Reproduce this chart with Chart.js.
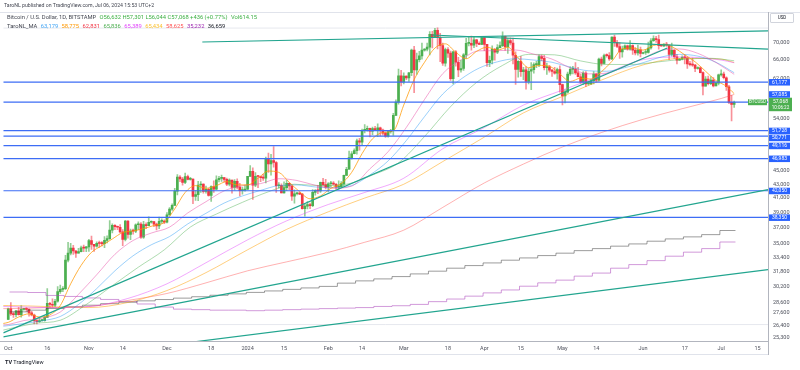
<!DOCTYPE html>
<html>
<head>
<meta charset="utf-8">
<script src="https://cdn.jsdelivr.net/npm/chart.js@4.4.1/dist/chart.umd.min.js"></script>
<style>
  html, body { margin: 0; padding: 0; background: #fff; }
  #wrap { position: relative; width: 800px; height: 370px; overflow: hidden; font-family: Roboto, 'Liberation Sans', sans-serif; }
  #chart { position: absolute; left: 0; top: 0; }
  .txt { position: absolute; white-space: nowrap; font-size: 5.2px; line-height: 6px; color: #434651; }
  .lg { font-size: 5.8px; }
  .lg span { margin-left: 2px; }
  .up { color: #3cb043; }
  #usd { position: absolute; left: 770px; top: 13px; width: 22px; height: 8px; border: 1px solid #d1d4dc; border-radius: 1px; background: #fff; font-size: 4.5px; line-height: 8px; text-align: center; color: #131722; }
  #tv { font-size: 5.5px; color: #131722; }
</style>
</head>
<body>
<div id="wrap">
  <canvas id="chart" width="800" height="370"></canvas>
  <div class="txt" style="left:4px;top:2px">TaroNL published on TradingView.com, Jul 06, 2024 15:53 UTC+2</div>
  <div class="txt lg" style="left:7px;top:14px">Bitcoin / U.S. Dollar, 1D, BITSTAMP <span class="up">O56,632 H57,301 L56,044 C57,068 +436 (+0.77%)</span> <span class="up">Vol614.15</span></div>
  <div class="txt lg" style="left:7px;top:22.5px">TaroNL_MA <span style="color:#42a5f5">63,179</span> <span style="color:#ff9800">58,775</span> <span style="color:#f23645">62,831</span> <span style="color:#4caf50">65,836</span> <span style="color:#e040fb">65,389</span> <span style="color:#fbc02d">65,434</span> <span style="color:#ff5252">58,625</span> <span style="color:#9c27b0">35,232</span> <span style="color:#131722">36,659</span></div>
  <div id="usd">USD</div>
  <div class="txt" id="tv" style="left:5px;top:359px"><b>TV</b> TradingView</div>
</div>
<script>
// daily BTC/USD candles, day 0 = 1 Oct 2023, last = 6 Jul 2024
const firstOpen = 26970;
const closes = [
  // Oct
  27990,27500,27430,27790,27410,27930,27960,27930,27590,27390,26870,26760,26860,26860,27160,28520,28420,28330,28720,29690,29920,29990,33090,33900,34500,34160,33900,34090,34540,34500,34640,
  // Nov
  35420,34940,34730,35080,35050,35040,35430,35650,36700,37320,37140,37070,36490,35550,37880,36170,36600,36580,37390,37470,35810,37420,37290,37720,37800,37480,37250,37830,37860,37720,
  // Dec
  38690,39470,39980,41990,44090,43780,43290,44170,43720,43790,41250,41490,42890,43030,41940,42260,41370,42660,42270,43670,43870,43990,43740,43020,43610,42520,43440,42580,42070,42140,42280,
  // Jan
  44180,44950,42850,44180,44160,43970,43930,46970,46120,46660,46350,42780,42850,41730,42500,43150,42740,41260,41620,41670,41560,39530,39870,40080,39930,41820,42120,42030,43300,42940,42570,
  // Feb
  43080,43190,43000,42580,42660,43090,44330,45290,47130,47770,48290,49960,49730,51810,51940,52160,51660,52120,51780,52260,51850,51300,50740,51570,51730,54520,57080,62500,61200,
  // Mar
  62440,62050,63170,68300,63800,66110,66940,68300,68500,69020,72100,71480,73100,71400,69400,65300,68400,67600,61900,67900,65500,63800,64100,67200,69900,69900,69450,70750,69900,69650,71300,
  // Apr
  69650,65400,65950,68500,67800,68900,69350,71600,69100,70600,70000,67100,63900,65700,63400,63800,61300,63500,63850,64950,64950,66800,66400,64300,64500,63750,63450,63100,63850,60650,
  // May
  58300,59100,62900,63900,64000,63150,62300,61200,63100,60800,60800,61450,62900,61550,66250,65250,67050,67000,66250,71450,70150,69150,67900,68550,69300,68500,69400,68300,67650,68350,67500,
  // Jun
  67750,67750,68800,70550,71100,70800,69350,69300,69650,69500,67300,68250,66750,66000,66200,66650,66500,65150,64950,64850,64100,64250,63200,60300,61800,60850,61600,60350,60950,62700,
  // Jul
  62900,62100,60200,57050,56632,57068
];
const highs = [
  28050,28580,27670,27840,28120,28290,28030,28100,27990,27730,27480,26940,27090,26980,27290,30000,28620,28960,28920,30220,30360,30200,33660,35200,35080,34820,34230,34480,34740,34860,34720,
  35560,35960,34940,35240,35360,35280,35890,35980,37940,37520,37420,37230,37420,36760,37980,37940,36850,36850,37520,37760,37670,37850,37630,38420,37890,37820,37600,38390,38170,38040,
  38990,39670,40200,42410,44450,44300,44050,44700,44370,44040,43800,42100,43440,43400,43080,42720,42440,42770,43500,44280,44200,44380,44020,43940,43800,43610,43690,43800,43130,42600,42890,
  44190,45880,45500,44770,44330,44220,44480,47240,47900,47690,48970,46500,43250,43080,43370,43570,43200,42930,42180,41870,41880,41680,40140,40520,40280,42220,42200,42840,43310,43880,43750,
  43260,43440,43380,43120,43520,43390,44370,45600,48200,48150,48570,50270,50370,52020,52820,52570,52180,52360,52490,52950,52370,52000,51530,51680,51960,54910,57560,64000,63680,
  63160,62500,63240,68520,69170,67600,67990,69960,68650,70000,72800,72900,73650,73750,72350,70000,68800,68900,68100,68100,68200,66650,65950,67500,71150,71550,71700,71550,70900,70300,71350,
  71350,69650,66900,69300,68700,69600,70300,72750,71700,71200,71250,71200,67900,65900,66850,64350,64500,64150,65450,65350,65700,67200,67200,67100,65300,64800,63900,64350,64200,64700,
  60750,59600,63300,64500,64600,65450,64350,62950,63400,63450,61400,61800,63400,63100,66450,66700,67400,67450,67700,71500,71950,70650,70100,69250,69550,69500,70600,69550,68900,69500,69000,
  67850,68400,70250,71050,71750,71600,71950,69550,69850,70150,69550,69950,68400,67300,66400,66950,67200,66550,65700,66450,65050,64500,64500,63350,62350,62450,62350,62150,61200,62900,
  63800,63300,62300,60500,58450,57301
];
const lows = [
  26960,27350,27170,27220,27370,27180,27860,27720,27290,27300,26550,26560,26690,26820,26810,27130,28100,28140,28180,28620,29500,29690,29880,32900,33700,33760,33420,33890,34060,34070,34080,
  34110,34350,34120,34600,34570,34750,34540,35120,35550,36350,36780,36760,36360,34800,35360,35700,35520,36210,36400,36760,35680,35680,36890,37270,37600,37150,36720,36880,37550,37530,
  37630,38650,39290,39980,41430,43400,42860,43090,43630,43600,40200,40680,40630,41790,41700,41700,41260,40540,41820,42200,43350,43420,43330,42800,42760,41680,42130,42320,41310,41540,41990,
  42190,44160,40800,42640,42500,43400,43590,43200,44800,44350,45600,41800,42440,41720,41700,42050,42200,40680,40280,41450,41500,39450,38510,39500,39520,39800,41400,41640,41800,42700,42300,
  41880,42590,42890,42260,42270,42590,42790,44330,45250,46900,47730,47720,48350,49290,51330,51630,50640,51020,51710,50670,50820,50920,50550,50590,51290,50910,54470,56700,60390,
  60800,61700,61310,62560,59000,62830,65600,66200,68050,68120,67200,68800,71350,68600,65650,64800,64600,66600,61500,60800,64600,62300,63300,63700,66400,69300,68300,68900,69100,69600,69600,
  68150,64550,64500,65100,66000,67450,68800,69100,68250,67550,69550,65100,60700,62200,62400,61700,59700,60800,59600,63100,64300,64500,65850,63800,62800,63300,62400,62850,61800,59100,
  56550,56950,58850,62600,62900,62800,62250,60900,60650,60200,60500,60650,60800,61150,61400,64650,65150,66650,65900,66100,69200,68900,66400,66650,68500,68300,68300,67300,67200,67150,66700,
  67400,67300,67600,68550,70400,70150,68550,69200,69100,69200,66100,66900,66350,65100,65900,66050,65100,64100,64700,64550,63400,63950,63150,58500,60300,60550,60650,60150,60350,60600,
  62450,61850,59450,56800,53500,56044
];

// moving averages, [day, price]
const maFast = [[-2,26600],[0,26700],[4,27200],[8,27500],[12,27200],[16,27400],[20,28300],[24,30500],[28,32500],[32,34000],[36,34800],[40,35600],[44,36400],[48,36600],[52,36900],[56,37300],[60,37700],[64,39500],[68,41800],[72,42800],[76,42400],[80,42800],[84,43400],[88,42900],[92,42900],[96,43900],[100,45000],[104,44800],[108,43300],[112,41900],[116,40900],[120,41300],[124,42400],[128,43100],[132,44800],[136,47800],[140,50300],[144,51400],[148,51700],[152,56500],[156,61700],[160,65500],[164,68800],[168,69800],[172,67800],[176,66300],[180,68000],[184,69000],[188,68300],[192,69000],[196,66500],[200,64300],[204,64800],[208,64600],[212,62900],[216,61300],[220,62000],[224,61800],[228,63400],[232,65700],[236,68600],[240,68800],[244,68300],[248,69400],[252,69700],[256,68800],[260,67200],[264,65600],[268,63500],[272,61500],[276,60300],[279,58775]];
const ma25 = [[-2,26450],[0,26500],[6,26870],[13,27090],[20,27670],[27,29410],[34,31470],[41,33770],[48,35420],[55,36340],[62,37090],[69,38950],[76,40490],[83,42030],[90,42790],[97,43100],[104,43830],[111,43560],[118,42850],[125,42410],[132,42730],[139,45350],[146,48110],[153,52310],[160,57610],[167,62980],[174,66060],[181,68140],[188,68170],[195,68320],[202,67350],[209,66210],[216,64230],[223,62930],[230,63080],[237,64590],[244,66420],[251,68240],[258,68570],[265,67550],[272,65440],[279,62831]];
const maBlue = [[-2,26350],[0,26400],[6,26600],[13,26850],[20,27250],[27,28400],[34,30000],[41,31900],[48,33600],[55,34900],[62,35900],[69,37500],[76,38900],[83,40300],[90,41300],[97,42100],[104,42800],[111,42900],[118,42600],[125,42500],[132,42800],[139,44400],[146,46600],[153,50000],[160,54300],[167,58700],[174,61800],[181,64200],[188,65600],[195,66300],[202,66000],[209,65500],[216,64400],[223,63600],[230,63500],[237,64300],[244,65400],[251,66700],[258,67300],[265,66900],[272,65500],[279,63179]];
const ma50 = [[-2,26000],[0,26100],[10,26600],[20,26900],[30,28400],[40,30300],[50,32300],[60,34300],[70,37100],[80,38800],[90,40400],[100,41900],[110,43000],[120,42800],[130,43000],[140,44400],[150,46300],[160,50700],[170,56200],[180,61100],[190,64800],[200,67300],[210,67200],[220,65800],[230,65000],[240,65000],[250,65600],[260,66200],[270,66400],[279,65836]];
const ma100 = [[-2,28200],[0,28200],[15,28100],[31,28200],[46,29000],[61,30500],[76,32800],[92,35500],[107,37900],[123,40100],[137,41800],[152,43900],[167,48600],[183,52300],[198,56500],[213,59500],[228,62600],[244,66100],[259,66700],[274,66000],[279,65389]];
const ma110 = [[-2,28300],[0,28300],[15,28200],[31,28100],[46,28600],[61,29800],[76,31700],[92,34300],[107,36800],[123,39100],[137,41000],[152,43000],[167,46500],[183,50600],[198,55000],[213,58200],[228,61600],[244,64900],[259,66400],[274,66200],[279,65434]];
const ma200 = [[-2,28000],[0,28000],[15,28100],[31,28200],[46,28800],[61,29500],[76,30600],[92,31900],[107,32900],[123,34000],[137,35200],[152,36700],[167,39700],[183,43200],[198,46100],[213,48900],[228,51400],[244,53800],[259,55800],[274,57800],[279,58625]];

// weekly (higher timeframe) averages, one value per Monday from 2 Oct 2023
const weekStarts = Array.from({ length: 40 }, (_, k) => 1 + 7 * k);
const weeklyGray = [27690,27850,28010,28180,28330,28480,28620,28760,28890,29030,29170,29320,29460,29610,29760,29920,30070,30230,
  30570,30810,31020,31270,31560,31860,32190,32480,32780,33090,33350,33620,33900,34200,34440,34730,35000,35330,35610,35860,36140,36659];
const weeklyPurple = [29650,29600,29300,29200,29050,28900,28700,28450,28150,27950,27900,27850,27850,27800,27850,27900,27950,28000,
  28050,28100,28210,28280,28410,28680,28940,29230,29560,29860,30250,30600,30890,31320,31650,32190,32590,33040,33550,34020,34440,35232];

// drawn levels and trend lines
const levels = [61177, 57085, 51728, 50771, 49116, 46983, 42050, 38350];
const faintLevels = [73700, 26500];
const trendLines = [
  [[-1.9, 25750], [253.3, 68800]],
  [[-1.9, 25400], [292, 42200]],
  [[72, 24980], [292, 32040]],
  [[74.6, 70240], [292, 72990]],
  [[162.6, 71960], [292, 68540]]
];

const tickDays = [0, 15, 31, 44, 61, 78, 92, 106, 123, 136, 152, 169, 183, 197, 213, 226, 244, 260, 274, 288];
const tickLabels = ['Oct', '16', 'Nov', '14', 'Dec', '18', '2024', '15', 'Feb', '14', 'Mar', '18', 'Apr', '15', 'May', '14', 'Jun', '17', 'Jul', '15'];
const priceTicks = [76000, 70000, 66000, 62000, 54000, 45000, 43000, 41000, 39000, 37000, 35000, 33400, 31800, 30200, 28600, 27600, 26400, 25300];

const xMin = -1.9, xMax = 292;
const yMin = 25040, yMax = 77900;
const lastPrice = 57068;

const UP = '#4caf50', DOWN = '#f23645';
const fmt = v => Number(v).toLocaleString('en-US');

const opens = closes.map((c, i) => i === 0 ? firstOpen : closes[i - 1]);
const up = closes.map((c, i) => c >= opens[i]);

function lineSet(points, color, extra) {
  return Object.assign({
    type: 'line',
    data: points.map(([x, y]) => ({ x, y })),
    borderColor: color,
    borderWidth: 1,
    pointRadius: 0,
    fill: false,
    order: 3
  }, extra);
}

function maSet(points, color) {
  return lineSet(points, color, { cubicInterpolationMode: 'monotone' });
}

function weeklySet(values, color) {
  const pts = weekStarts.map((d, i) => [d - 0.5, values[i]]);
  pts.push([closes.length - 0.5, values[values.length - 1]]);
  return lineSet(pts, color, { stepped: true });
}

const datasets = [];

trendLines.forEach(t => datasets.push(lineSet(t, '#22a58f', { borderWidth: 1.2, order: 1 })));
levels.forEach(v => datasets.push(lineSet([[xMin, v], [xMax, v]], '#3d6df5', { borderWidth: 1.2, order: 2 })));
faintLevels.forEach(v => datasets.push(lineSet([[xMin, v], [xMax, v]], '#e6e8ee', { order: 9 })));

datasets.push(maSet(maFast, 'rgba(255,152,0,0.75)'));
datasets.push(maSet(ma25, 'rgba(233,80,170,0.5)'));
datasets.push(maSet(maBlue, 'rgba(33,150,243,0.45)'));
datasets.push(maSet(ma50, 'rgba(76,175,80,0.45)'));
datasets.push(maSet(ma100, 'rgba(224,64,251,0.45)'));
datasets.push(maSet(ma110, 'rgba(255,160,0,0.5)'));
datasets.push(maSet(ma200, 'rgba(255,82,82,0.45)'));
datasets.push(weeklySet(weeklyGray, 'rgba(60,60,60,0.5)'));
datasets.push(weeklySet(weeklyPurple, 'rgba(171,71,188,0.55)'));

datasets.push({
  type: 'bar',
  data: closes.map((c, i) => ({ x: i, y: [lows[i], highs[i]] })),
  backgroundColor: up.map(u => u ? 'rgba(76,175,80,0.6)' : 'rgba(242,54,69,0.55)'),
  barThickness: 1,
  grouped: false,
  order: 5
});
datasets.push({
  type: 'bar',
  data: closes.map((c, i) => ({ x: i, y: [opens[i], c] })),
  backgroundColor: up.map(u => u ? UP : DOWN),
  barThickness: 2,
  minBarLength: 1,
  grouped: false,
  order: 4
});

const overlay = {
  id: 'overlay',
  afterDraw(chart) {
    const { ctx, chartArea: a, scales: { y } } = chart;
    ctx.save();
    const seg = (x1, y1, x2, y2, c) => {
      ctx.strokeStyle = c; ctx.lineWidth = 1;
      ctx.beginPath(); ctx.moveTo(x1, y1); ctx.lineTo(x2, y2); ctx.stroke();
    };
    seg(0, 12.5, 800, 12.5, '#e0e3eb');
    seg(0, a.bottom + 0.5, a.right, a.bottom + 0.5, '#b2b5be');
    seg(0, 354.5, a.right, 354.5, '#e0e3eb');
    seg(a.right + 0.5, 12, a.right + 0.5, 355, '#b2b5be');

    ctx.textAlign = 'center';
    ctx.textBaseline = 'middle';

    // price label
    const py = y.getPixelForValue(lastPrice);
    const priceTop = py - 4.5;
    ctx.fillStyle = UP;
    ctx.fillRect(a.right + 1, priceTop, 23, 13.5);
    ctx.fillStyle = '#fff';
    ctx.font = '5px Roboto';
    ctx.fillText(fmt(lastPrice), a.right + 12.5, py - 0.5);
    ctx.font = '4.5px Roboto';
    ctx.fillText('10:06:22', a.right + 12.5, py + 5.5);

    ctx.fillStyle = UP;
    ctx.fillRect(a.right - 20, py - 3, 19, 6);
    ctx.fillStyle = '#fff';
    ctx.font = '4.5px Roboto';
    ctx.fillText('BTCUSD', a.right - 10.5, py);

    // level labels, pushed apart like the axis does
    const boxes = levels.map(v => ({ v, cy: y.getPixelForValue(v) })).sort((p, q) => p.cy - q.cy);
    boxes.forEach(b => {
      if (b.cy > priceTop - 3.5 && b.cy < priceTop + 14) {
        b.cy = b.v > lastPrice ? priceTop - 3.5 : priceTop + 17;
      }
    });
    for (let i = 1; i < boxes.length; i++) {
      if (boxes[i].cy - boxes[i - 1].cy < 7) boxes[i].cy = boxes[i - 1].cy + 7;
    }
    ctx.font = '5px Roboto';
    boxes.forEach(b => {
      ctx.fillStyle = '#2962ff';
      ctx.fillRect(a.right + 1, b.cy - 3, 21, 6.5);
      ctx.fillStyle = '#fff';
      ctx.fillText(fmt(b.v), a.right + 11.5, b.cy + 0.3);
    });
    ctx.restore();
  }
};

new Chart(document.getElementById('chart'), {
  type: 'bar',
  data: { datasets },
  options: {
    responsive: false,
    animation: false,
    devicePixelRatio: 1,
    layout: { padding: { left: 0, right: 0, top: 12, bottom: 16 } },
    plugins: { legend: { display: false }, tooltip: { enabled: false } },
    scales: {
      x: {
        type: 'linear',
        min: xMin,
        max: xMax,
        offset: false,
        grid: { display: false, drawTicks: false },
        border: { display: false },
        ticks: {
          autoSkip: false, maxRotation: 0, minRotation: 0, padding: 4,
          color: '#50535e', font: { family: 'Roboto', size: 5.5 },
          callback: (v, i) => tickLabels[i]
        },
        afterBuildTicks(s) { s.ticks = tickDays.map(v => ({ value: v })); },
        afterFit(s) { s.height = 13; }
      },
      y: {
        type: 'logarithmic',
        position: 'right',
        min: yMin,
        max: yMax,
        grid: { display: false, drawTicks: false },
        border: { display: false },
        ticks: {
          autoSkip: false, padding: 5,
          color: '#50535e', font: { family: 'Roboto', size: 5.5 },
          callback: v => fmt(v)
        },
        afterBuildTicks(s) { s.ticks = priceTicks.map(v => ({ value: v })); },
        afterFit(s) { s.width = 32; }
      }
    }
  },
  plugins: [overlay]
});
</script>
</body>
</html>
